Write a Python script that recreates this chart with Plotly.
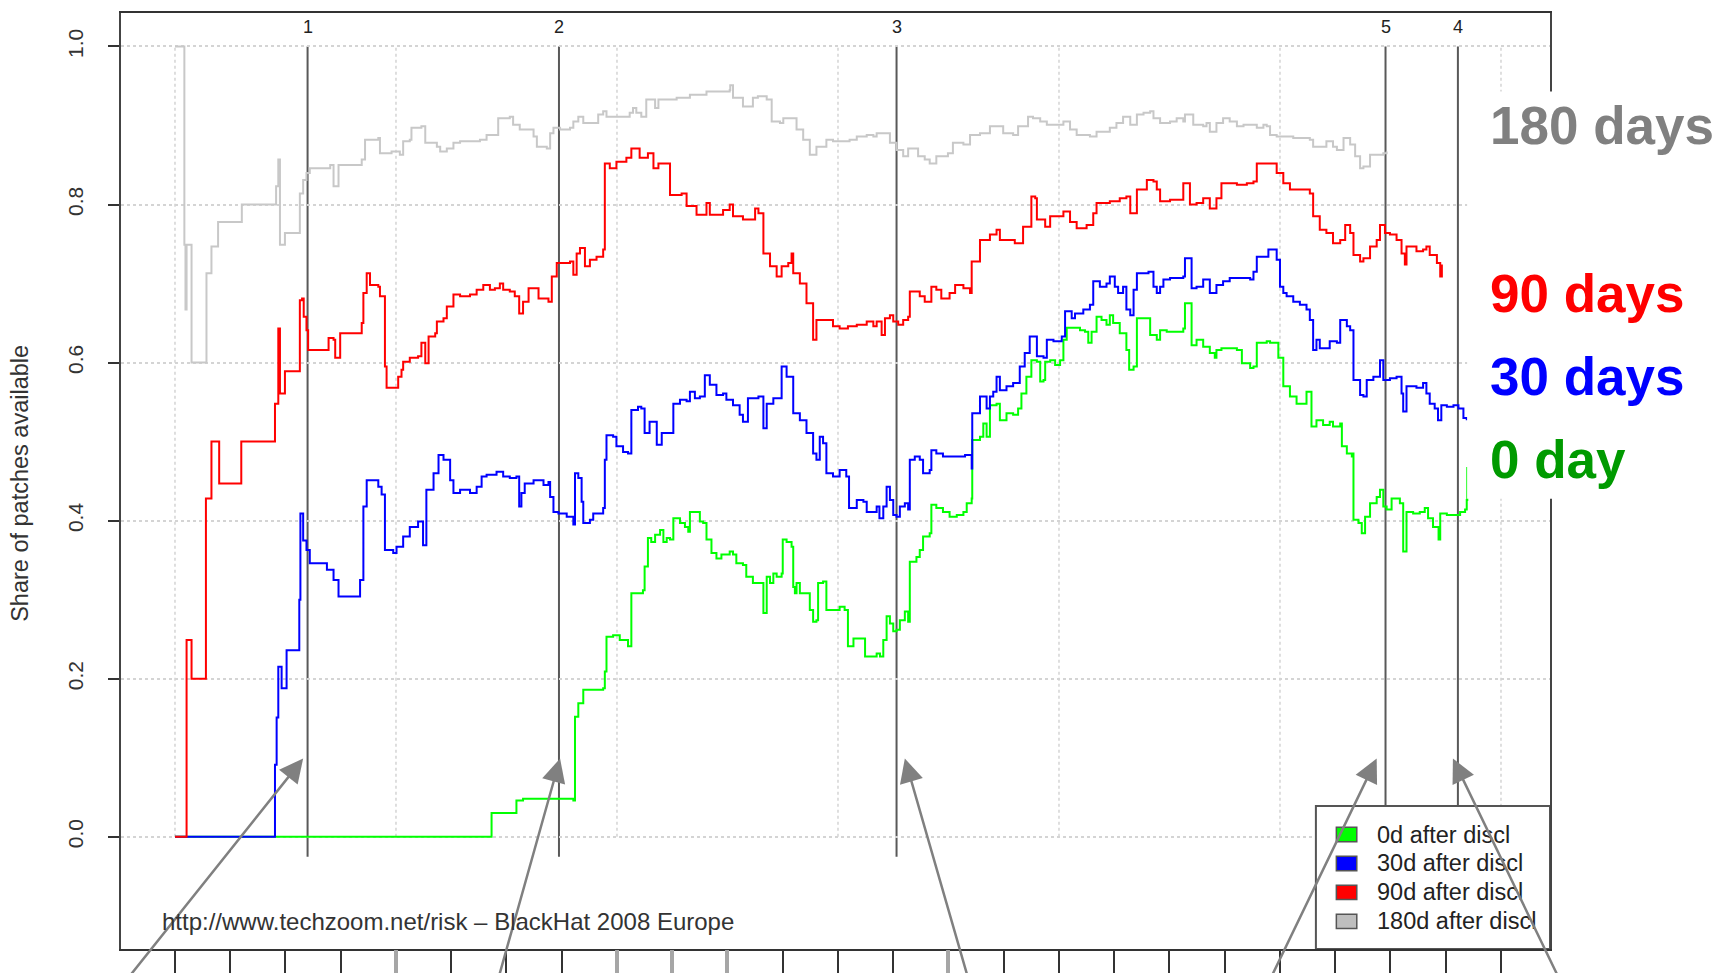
import plotly.graph_objects as go

# ---------------- data (x = months on the time axis, y = share of patches available) -------------
gray_t = [0.00,0.16,0.17,0.19,0.21,0.28,0.30,0.56,0.57,0.63,0.66,0.78,1.18,1.21,1.78,1.83,1.87,1.90,1.96,1.99,2.23,2.26,2.32,2.38,2.44,2.81,2.87,2.93,2.96,3.32,3.38,3.44,3.68,3.71,3.92,4.07,4.13,4.25,4.28,4.46,4.53,4.74,4.80,4.92,5.04,5.16,5.52,5.64,5.79,5.85,6.06,6.12,6.24,6.49,6.55,6.73,6.79,6.85,6.97,7.15,7.21,7.30,7.39,7.63,7.66,7.75,7.81,
          7.93,8.23,8.29,8.35,8.44,8.53,8.66,8.69,8.75,9.08,9.32,9.62,10.04,10.05,10.10,10.28,10.34,10.46,10.55,10.71,10.80,10.95,11.01,11.16,11.25,11.37,11.49,11.61,11.79,11.91,12.15,12.21,12.34,12.52,12.64,12.70,12.88,12.94,13.06,13.18,13.27,13.33,13.45,13.57,13.66,13.78,13.99,14.08,14.27,14.39,14.57,14.75,14.93,14.99,15.17,15.26,15.44,15.53,
          15.66,15.78,15.96,16.08,16.20,16.32,16.50,16.56,16.68,16.92,17.04,17.16,17.29,17.41,17.53,17.65,17.71,17.83,18.01,18.13,18.25,18.28,18.37,18.43,18.61,18.67,18.73,18.85,18.97,19.09,19.22,19.34,19.58,19.70,19.76,19.82,19.94,20.06,20.24,20.42,20.54,20.60,20.72,20.84,20.96,21.03,21.15,21.27,21.36,21.45,21.51,21.63,21.87,21.93]
gray_share = [1.000,1.000,0.749,0.667,0.749,0.749,0.600,0.600,0.713,0.713,0.747,0.778,0.778,0.800,0.800,0.823,0.857,0.749,0.749,0.764,0.764,0.814,0.831,0.840,0.846,0.850,0.823,0.823,0.850,0.850,0.857,0.882,0.884,0.865,0.867,0.863,0.880,0.882,0.897,0.899,0.878,0.873,0.867,0.871,0.878,0.880,0.882,0.888,0.888,0.909,0.911,0.901,0.895,0.886,0.873,0.871,0.890,0.897,0.895,0.897,0.905,0.911,0.903,0.903,0.914,0.918,0.911,
              0.911,0.916,0.922,0.916,0.911,0.933,0.933,0.922,0.933,0.935,0.939,0.943,0.945,0.951,0.935,0.924,0.924,0.935,0.937,0.933,0.905,0.903,0.909,0.909,0.895,0.882,0.863,0.873,0.882,0.880,0.880,0.882,0.886,0.888,0.886,0.890,0.890,0.878,0.869,0.861,0.871,0.871,0.861,0.857,0.852,0.861,0.865,0.878,0.876,0.888,0.890,0.899,0.899,0.890,0.888,0.899,0.911,0.909,
              0.905,0.901,0.901,0.905,0.895,0.888,0.888,0.886,0.892,0.897,0.903,0.911,0.901,0.914,0.916,0.918,0.909,0.903,0.905,0.909,0.905,0.914,0.914,0.901,0.899,0.903,0.892,0.903,0.909,0.905,0.899,0.901,0.897,0.901,0.899,0.888,0.886,0.886,0.884,0.884,0.882,0.873,0.873,0.880,0.873,0.869,0.884,0.876,0.861,0.846,0.848,0.863,0.865,0.867]

red_t = [0.00,0.20,0.21,0.27,0.30,0.54,0.56,0.65,0.66,0.78,0.80,1.18,1.20,1.78,1.81,1.85,1.87,1.90,1.96,1.99,2.23,2.26,2.30,2.33,2.38,2.41,2.75,2.78,2.87,2.90,2.96,2.99,3.32,3.38,3.41,3.47,3.53,3.68,3.71,3.77,3.80,3.83,3.95,4.04,4.10,4.13,4.25,4.40,4.46,4.53,4.59,4.71,4.74,4.86,4.92,5.04,5.16,5.34,5.46,5.58,5.70,5.79,5.88,5.94,6.06,6.15,6.23,6.30,6.40,6.52,6.58,6.76,6.82,6.91,7.15,7.21,7.27,7.33,7.42,7.51,7.63,7.75,
         7.78,7.87,7.99,8.17,8.26,8.41,8.56,8.66,8.75,8.84,8.96,9.17,9.26,9.44,9.62,9.68,9.92,10.04,10.10,10.28,10.50,10.56,10.65,10.77,10.89,10.98,11.10,11.16,11.19,11.31,11.43,11.55,11.61,11.79,11.91,12.03,12.18,12.34,12.52,12.64,12.70,12.79,12.85,12.94,13.00,13.09,13.18,13.27,13.30,13.48,13.57,13.69,13.78,13.87,14.02,14.12,14.27,14.39,14.42,14.57,14.75,14.87,14.93,15.11,15.20,15.35,15.50,
         15.57,15.60,15.75,15.84,16.08,16.20,16.32,16.50,16.62,16.68,16.92,17.10,17.22,17.29,17.41,17.59,17.71,17.77,17.83,18.01,18.13,18.25,18.31,18.37,18.49,18.61,18.73,18.85,18.94,19.22,19.40,19.52,19.58,19.82,19.94,20.06,20.18,20.30,20.54,20.60,20.72,20.84,20.96,21.09,21.18,21.27,21.33,21.45,21.51,21.63,21.75,21.81,21.90,21.99,22.11,22.20,22.26,22.29,22.47,22.59,22.65,22.71,22.84,22.90,22.93]
red_share = [0.000,0.000,0.249,0.249,0.200,0.200,0.428,0.428,0.500,0.500,0.447,0.447,0.500,0.500,0.548,0.548,0.643,0.561,0.561,0.589,0.589,0.679,0.681,0.658,0.641,0.616,0.616,0.631,0.629,0.606,0.606,0.637,0.637,0.650,0.688,0.713,0.698,0.696,0.684,0.684,0.595,0.568,0.568,0.582,0.591,0.601,0.606,0.608,0.625,0.599,0.633,0.637,0.652,0.656,0.671,0.686,0.684,0.686,0.692,0.698,0.692,0.694,0.700,0.692,0.690,0.684,0.662,0.677,0.694,0.694,0.681,0.677,0.709,0.726,0.728,0.711,0.738,0.745,0.722,0.730,0.734,0.743,
             0.852,0.846,0.854,0.859,0.871,0.859,0.865,0.846,0.852,0.852,0.812,0.814,0.798,0.787,0.802,0.787,0.793,0.800,0.785,0.781,0.795,0.789,0.738,0.722,0.709,0.722,0.726,0.738,0.713,0.700,0.675,0.629,0.654,0.654,0.646,0.643,0.646,0.648,0.652,0.646,0.652,0.635,0.656,0.660,0.652,0.648,0.654,0.658,0.690,0.684,0.677,0.696,0.692,0.681,0.688,0.698,0.694,0.688,0.728,0.755,0.762,0.768,0.755,0.755,0.751,0.772,0.810,
             0.808,0.781,0.772,0.785,0.791,0.778,0.770,0.774,0.789,0.802,0.804,0.808,0.810,0.789,0.819,0.831,0.829,0.819,0.804,0.806,0.806,0.827,0.827,0.800,0.802,0.808,0.795,0.808,0.827,0.825,0.827,0.829,0.852,0.852,0.840,0.827,0.819,0.819,0.814,0.785,0.768,0.764,0.751,0.755,0.774,0.764,0.736,0.728,0.732,0.747,0.755,0.774,0.764,0.762,0.755,0.738,0.724,0.747,0.741,0.743,0.747,0.736,0.726,0.709,0.724]

blue_t = [0.00,1.79,1.81,1.84,1.87,1.91,1.93,1.99,2.02,2.23,2.25,2.27,2.32,2.38,2.44,2.69,2.75,2.87,2.96,3.29,3.35,3.41,3.47,3.68,3.74,3.80,3.95,4.01,4.13,4.25,4.40,4.49,4.55,4.68,4.77,4.86,4.98,5.04,5.16,5.34,5.46,5.55,5.64,5.82,5.94,6.06,6.18,6.23,6.27,6.33,6.49,6.67,6.76,6.79,6.85,6.94,7.09,7.21,7.24,7.30,7.36,7.39,7.51,7.57,7.75,7.78,
          7.81,7.93,7.99,8.11,8.20,8.26,8.38,8.44,8.50,8.59,8.72,8.81,8.96,9.02,9.14,9.26,9.32,9.41,9.50,9.59,9.68,9.80,9.92,9.98,10.10,10.22,10.28,10.37,10.56,10.65,10.71,10.83,10.98,11.07,11.19,11.31,11.43,11.55,11.61,11.67,11.73,11.79,11.91,12.03,12.15,12.20,12.34,12.46,12.52,12.64,12.70,12.75,12.82,12.88,12.94,13.00,13.06,13.12,13.21,13.27,13.30,13.39,13.48,13.54,13.66,13.69,13.78,13.90,14.30,14.42,
          14.43,14.51,14.57,14.69,14.75,14.81,14.87,14.93,15.05,15.17,15.29,15.38,15.47,15.56,15.60,15.72,15.78,15.90,16.05,16.11,16.23,16.29,16.44,16.56,16.62,16.74,16.86,16.92,17.01,17.07,17.16,17.22,17.29,17.35,17.41,17.62,17.71,17.77,17.83,17.89,18.01,18.25,18.28,18.34,18.40,18.49,18.61,18.73,18.85,18.97,19.09,19.28,19.46,19.52,19.58,19.70,19.79,19.94,20.00,20.06,20.12,20.24,20.36,20.48,20.54,
          20.60,20.66,20.72,20.90,21.03,21.09,21.21,21.27,21.33,21.45,21.51,21.57,21.69,21.81,21.87,21.99,22.11,22.20,22.23,22.29,22.47,22.59,22.65,22.71,22.80,22.86,22.92,23.02,23.14,23.23,23.32,23.38]
blue_share = [0.000,0.000,0.091,0.151,0.215,0.215,0.188,0.188,0.236,0.236,0.300,0.409,0.375,0.363,0.346,0.346,0.338,0.325,0.304,0.304,0.325,0.418,0.451,0.443,0.433,0.363,0.359,0.367,0.380,0.392,0.399,0.369,0.439,0.460,0.483,0.477,0.451,0.435,0.439,0.435,0.443,0.456,0.458,0.462,0.456,0.454,0.456,0.418,0.435,0.447,0.451,0.445,0.449,0.430,0.411,0.409,0.405,0.395,0.460,0.454,0.424,0.397,0.401,0.409,0.416,0.477,
              0.508,0.506,0.494,0.487,0.485,0.540,0.544,0.542,0.511,0.525,0.496,0.511,0.511,0.548,0.553,0.551,0.563,0.555,0.557,0.584,0.572,0.559,0.561,0.553,0.546,0.534,0.525,0.555,0.557,0.517,0.548,0.555,0.595,0.582,0.536,0.527,0.511,0.485,0.477,0.506,0.498,0.460,0.456,0.464,0.456,0.416,0.426,0.424,0.411,0.411,0.418,0.403,0.418,0.443,0.426,0.407,0.405,0.418,0.422,0.414,0.477,0.481,0.477,0.460,0.464,0.489,0.485,0.481,0.483,0.466,
              0.536,0.536,0.557,0.542,0.557,0.563,0.582,0.565,0.570,0.574,0.595,0.612,0.633,0.633,0.608,0.606,0.629,0.627,0.633,0.665,0.656,0.662,0.667,0.673,0.703,0.696,0.700,0.709,0.696,0.688,0.696,0.667,0.660,0.692,0.713,0.715,0.696,0.688,0.696,0.705,0.707,0.709,0.732,0.732,0.694,0.696,0.705,0.688,0.698,0.703,0.707,0.707,0.705,0.715,0.734,0.734,0.743,0.730,0.696,0.688,0.684,0.677,0.673,0.667,0.654,
              0.616,0.629,0.618,0.627,0.625,0.654,0.646,0.641,0.578,0.559,0.557,0.578,0.582,0.603,0.578,0.580,0.582,0.561,0.538,0.570,0.568,0.574,0.561,0.548,0.542,0.527,0.546,0.544,0.546,0.542,0.530,0.527]

green_t = [0.00,5.67,5.73,6.15,6.18,6.30,7.21,7.24,7.30,7.39,7.75,7.78,7.81,7.93,8.05,8.20,8.26,8.47,8.50,8.56,8.62,8.69,8.78,8.84,8.90,8.96,9.02,9.14,9.23,9.29,9.32,9.44,9.50,9.56,9.62,9.71,9.80,9.89,10.04,10.10,10.16,10.28,10.34,10.46,10.56,10.65,10.71,10.77,10.83,10.89,10.98,11.00,11.07,11.16,11.19,11.22,11.25,11.31,11.49,11.55,11.61,11.64,11.73,11.79,12.03,12.12,12.18,12.28,12.46,12.49,12.70,12.76,12.82,12.88,12.94,13.00,13.06,13.12,13.21,13.27,
           13.30,13.42,13.48,13.54,13.66,13.69,13.78,13.90,14.02,14.15,14.27,14.33,14.42,14.43,14.57,14.63,14.69,14.75,14.87,14.93,15.05,15.17,15.26,15.32,15.41,15.50,15.56,15.60,15.66,15.72,15.75,15.84,15.93,16.02,16.08,16.14,16.38,16.47,16.53,16.59,16.68,16.77,16.86,16.92,16.98,17.10,17.22,17.27,17.35,17.41,17.62,17.65,17.77,17.83,17.95,18.13,18.25,18.28,18.37,18.40,18.49,18.61,18.73,18.82,18.85,18.94,19.09,19.22,19.31,19.46,19.52,19.58,19.76,19.82,19.97,
           20.06,20.18,20.30,20.45,20.48,20.57,20.66,20.78,20.90,20.96,21.09,21.12,21.21,21.30,21.32,21.33,21.42,21.48,21.54,21.63,21.75,21.81,21.87,21.93,22.02,22.11,22.17,22.23,22.29,22.41,22.53,22.62,22.68,22.77,22.87,22.90,23.02,23.14,23.26,23.35,23.38,23.39]
green_share = [0.000,0.000,0.030,0.030,0.046,0.048,0.046,0.152,0.169,0.186,0.188,0.209,0.253,0.255,0.249,0.241,0.308,0.312,0.342,0.378,0.373,0.382,0.388,0.373,0.378,0.376,0.403,0.397,0.392,0.386,0.411,0.411,0.399,0.397,0.376,0.359,0.352,0.357,0.361,0.357,0.346,0.344,0.329,0.321,0.321,0.283,0.329,0.321,0.333,0.329,0.333,0.376,0.373,0.367,0.316,0.308,0.321,0.308,0.287,0.272,0.274,0.321,0.323,0.287,0.291,0.287,0.241,0.251,0.251,0.228,0.232,0.228,0.249,0.279,0.270,0.260,0.262,0.274,0.285,0.272,
               0.348,0.354,0.363,0.380,0.384,0.420,0.416,0.411,0.405,0.407,0.411,0.422,0.428,0.502,0.506,0.523,0.506,0.546,0.548,0.527,0.536,0.534,0.542,0.561,0.582,0.603,0.603,0.601,0.576,0.578,0.601,0.603,0.597,0.603,0.629,0.644,0.641,0.639,0.625,0.639,0.658,0.654,0.648,0.660,0.650,0.637,0.616,0.591,0.595,0.656,0.656,0.635,0.629,0.641,0.639,0.639,0.643,0.675,0.675,0.622,0.629,0.620,0.612,0.606,0.616,0.618,0.618,0.616,0.599,0.593,0.595,0.625,0.627,0.625,0.606,
               0.570,0.557,0.548,0.548,0.563,0.519,0.527,0.521,0.525,0.519,0.523,0.494,0.485,0.481,0.485,0.401,0.397,0.384,0.405,0.422,0.430,0.439,0.418,0.414,0.428,0.428,0.422,0.361,0.411,0.409,0.411,0.416,0.403,0.392,0.376,0.409,0.407,0.407,0.411,0.414,0.426,0.468]

# event markers (numbered vertical lines) and the arrows that point at them
event_t = [2.40, 6.95, 13.06, 21.91, 23.22]
event_labels = ["1", "2", "3", "5", "4"]
arrow_tip_t = [2.32, 6.97, 13.21, 21.75, 23.13]
arrow_tail_t = [-0.92, 5.83, 14.38, 19.79, 25.09]
arrow_tip_share = 0.099
arrow_tail_share = -0.185

legend_labels = ["0d after discl", "30d after discl", "90d after discl", "180d after discl"]
legend_colors = ["#00ff00", "#0000ff", "#ff0000", "#bebebe"]
side_labels = ["180 days", "90 days", "30 days", "0 day"]
side_colors = ["#808080", "#ff0000", "#0000ff", "#009a00"]
side_share = [0.8996, 0.688, 0.582, 0.477]

y_ticks = [0.0, 0.2, 0.4, 0.6, 0.8, 1.0]
x_ticks = list(range(25))
x_ticks_gray = [4, 8, 9, 10, 14]
x_grid = [0, 4, 8, 12, 16, 20, 24]
footer = "http://www.techzoom.net/risk \u2013 BlackHat 2008 Europe"

# ---------------- figure -------------
XR = [-0.977, 24.887]
YR = [-0.142, 1.0423]
FONT = "Liberation Sans, Arial, Helvetica, sans-serif"

fig = go.Figure()
for t, s, c, name in [(green_t, green_share, "#00ff00", "0d"),
                      (blue_t, blue_share, "#0000ff", "30d"),
                      (red_t, red_share, "#ff0000", "90d"),
                      (gray_t, gray_share, "#c8c8c8", "180d")]:
    fig.add_trace(go.Scatter(x=t, y=s, mode="lines", line=dict(color=c, width=2, shape="hv"),
                             name=name, showlegend=False, hoverinfo="skip"))

# invisible trace that carries the secondary (grey tick) axis
fig.add_trace(go.Scatter(x=[0, 1], y=[None, None], xaxis="x2", mode="lines", showlegend=False, hoverinfo="skip"))

shapes = []
for g in x_grid:
    shapes.append(dict(type="line", xref="x", yref="y", x0=g, x1=g, y0=0, y1=1,
                       line=dict(color="#d4d4d4", width=1.5, dash="dot"), layer="below"))
for e in event_t:
    shapes.append(dict(type="line", xref="x", yref="y", x0=e, x1=e, y0=-0.0253, y1=1.0,
                       line=dict(color="#595959", width=2), layer="below"))

# white box behind the right-hand labels
shapes.append(dict(type="rect", xref="paper", yref="paper", x0=0.942, x1=1.2, y0=0.481, y1=0.916,
                   fillcolor="white", line=dict(width=0), layer="above"))

# legend box
leg_x0 = 20.65
leg_top = 0.039
row_h = 0.0366
row0 = 0.0028
shapes.append(dict(type="rect", xref="x", yref="y", x0=leg_x0, x1=XR[1], y0=YR[0], y1=leg_top,
                   fillcolor="white", line=dict(color="#555555", width=2), layer="above"))
annotations = []
for i, (lab, col) in enumerate(zip(legend_labels, legend_colors)):
    yc = row0 - i * row_h
    shapes.append(dict(type="rect", xref="x", yref="y", x0=21.02, x1=21.39, y0=yc - 0.0091, y1=yc + 0.0091,
                       fillcolor=col, line=dict(color="#555555", width=1.5), layer="above"))
    annotations.append(dict(x=21.72, y=yc, xref="x", yref="y", text=lab, showarrow=False,
                            xanchor="left", yanchor="middle", font=dict(family=FONT, size=23.5, color="#222222")))

for e, lab in zip(event_t, event_labels):
    annotations.append(dict(x=e, y=1.025, xref="x", yref="y", text=lab, showarrow=False,
                            xanchor="center", yanchor="middle", font=dict(family=FONT, size=18, color="#222222")))

for tip, tail in zip(arrow_tip_t, arrow_tail_t):
    annotations.append(dict(x=tip, y=arrow_tip_share, ax=tail, ay=arrow_tail_share,
                            xref="x", yref="y", axref="x", ayref="y", text="", showarrow=True,
                            arrowhead=2, arrowsize=1.9, arrowwidth=2.5, arrowcolor="#808080", standoff=0))

annotations.append(dict(x=-0.28, y=-0.1067, xref="x", yref="y", text=footer, showarrow=False,
                        xanchor="left", yanchor="middle", font=dict(family=FONT, size=24, color="#333333")))

annotations.append(dict(x=-0.0707, y=0.498, xref="paper", yref="paper", text="Share of patches available",
                        textangle=-90, showarrow=False, xanchor="center", yanchor="middle",
                        font=dict(family=FONT, size=23.5, color="#333333")))

for lab, col, s in zip(side_labels, side_colors, side_share):
    annotations.append(dict(x=0.9568, y=s, xref="paper", yref="y", text=lab, showarrow=False,
                            xanchor="left", yanchor="middle",
                            font=dict(family=FONT, size=53, color=col, weight="bold")))

# the page body adds an 8px offset, so the figure is 8px smaller and margins are shifted accordingly
fig.update_layout(
    width=1715, height=965,
    margin=dict(l=113, r=173, t=5, b=24, pad=0),
    paper_bgcolor="white", plot_bgcolor="white",
    shapes=shapes, annotations=annotations,
    xaxis=dict(range=XR, tickvals=x_ticks, ticks="outside", ticklen=24, tickwidth=1.5, tickcolor="#333333",
               showticklabels=False, showgrid=False, zeroline=False, automargin=False,
               showline=True, linecolor="#333333", linewidth=2, mirror=True),
    xaxis2=dict(range=XR, overlaying="x", anchor="y", side="bottom", tickvals=x_ticks_gray,
                ticks="outside", ticklen=24, tickwidth=3.5, tickcolor="#a6a6a6", automargin=False,
                showticklabels=False, showgrid=False, zeroline=False, showline=False),
    yaxis=dict(range=YR, tickvals=y_ticks, ticktext=["%.1f" % v for v in y_ticks], tickangle=-90,
               ticks="outside", ticklen=11, tickwidth=1.5, tickcolor="#333333",
               ticklabelstandoff=17, automargin=False,
               tickfont=dict(family=FONT, size=21, color="#333333"),
               showgrid=True, gridcolor="#d4d4d4", gridwidth=1.5, griddash="dot", zeroline=False,
               showline=True, linecolor="#444444", linewidth=2, mirror=True),
)

fig.write_html("out.html")
